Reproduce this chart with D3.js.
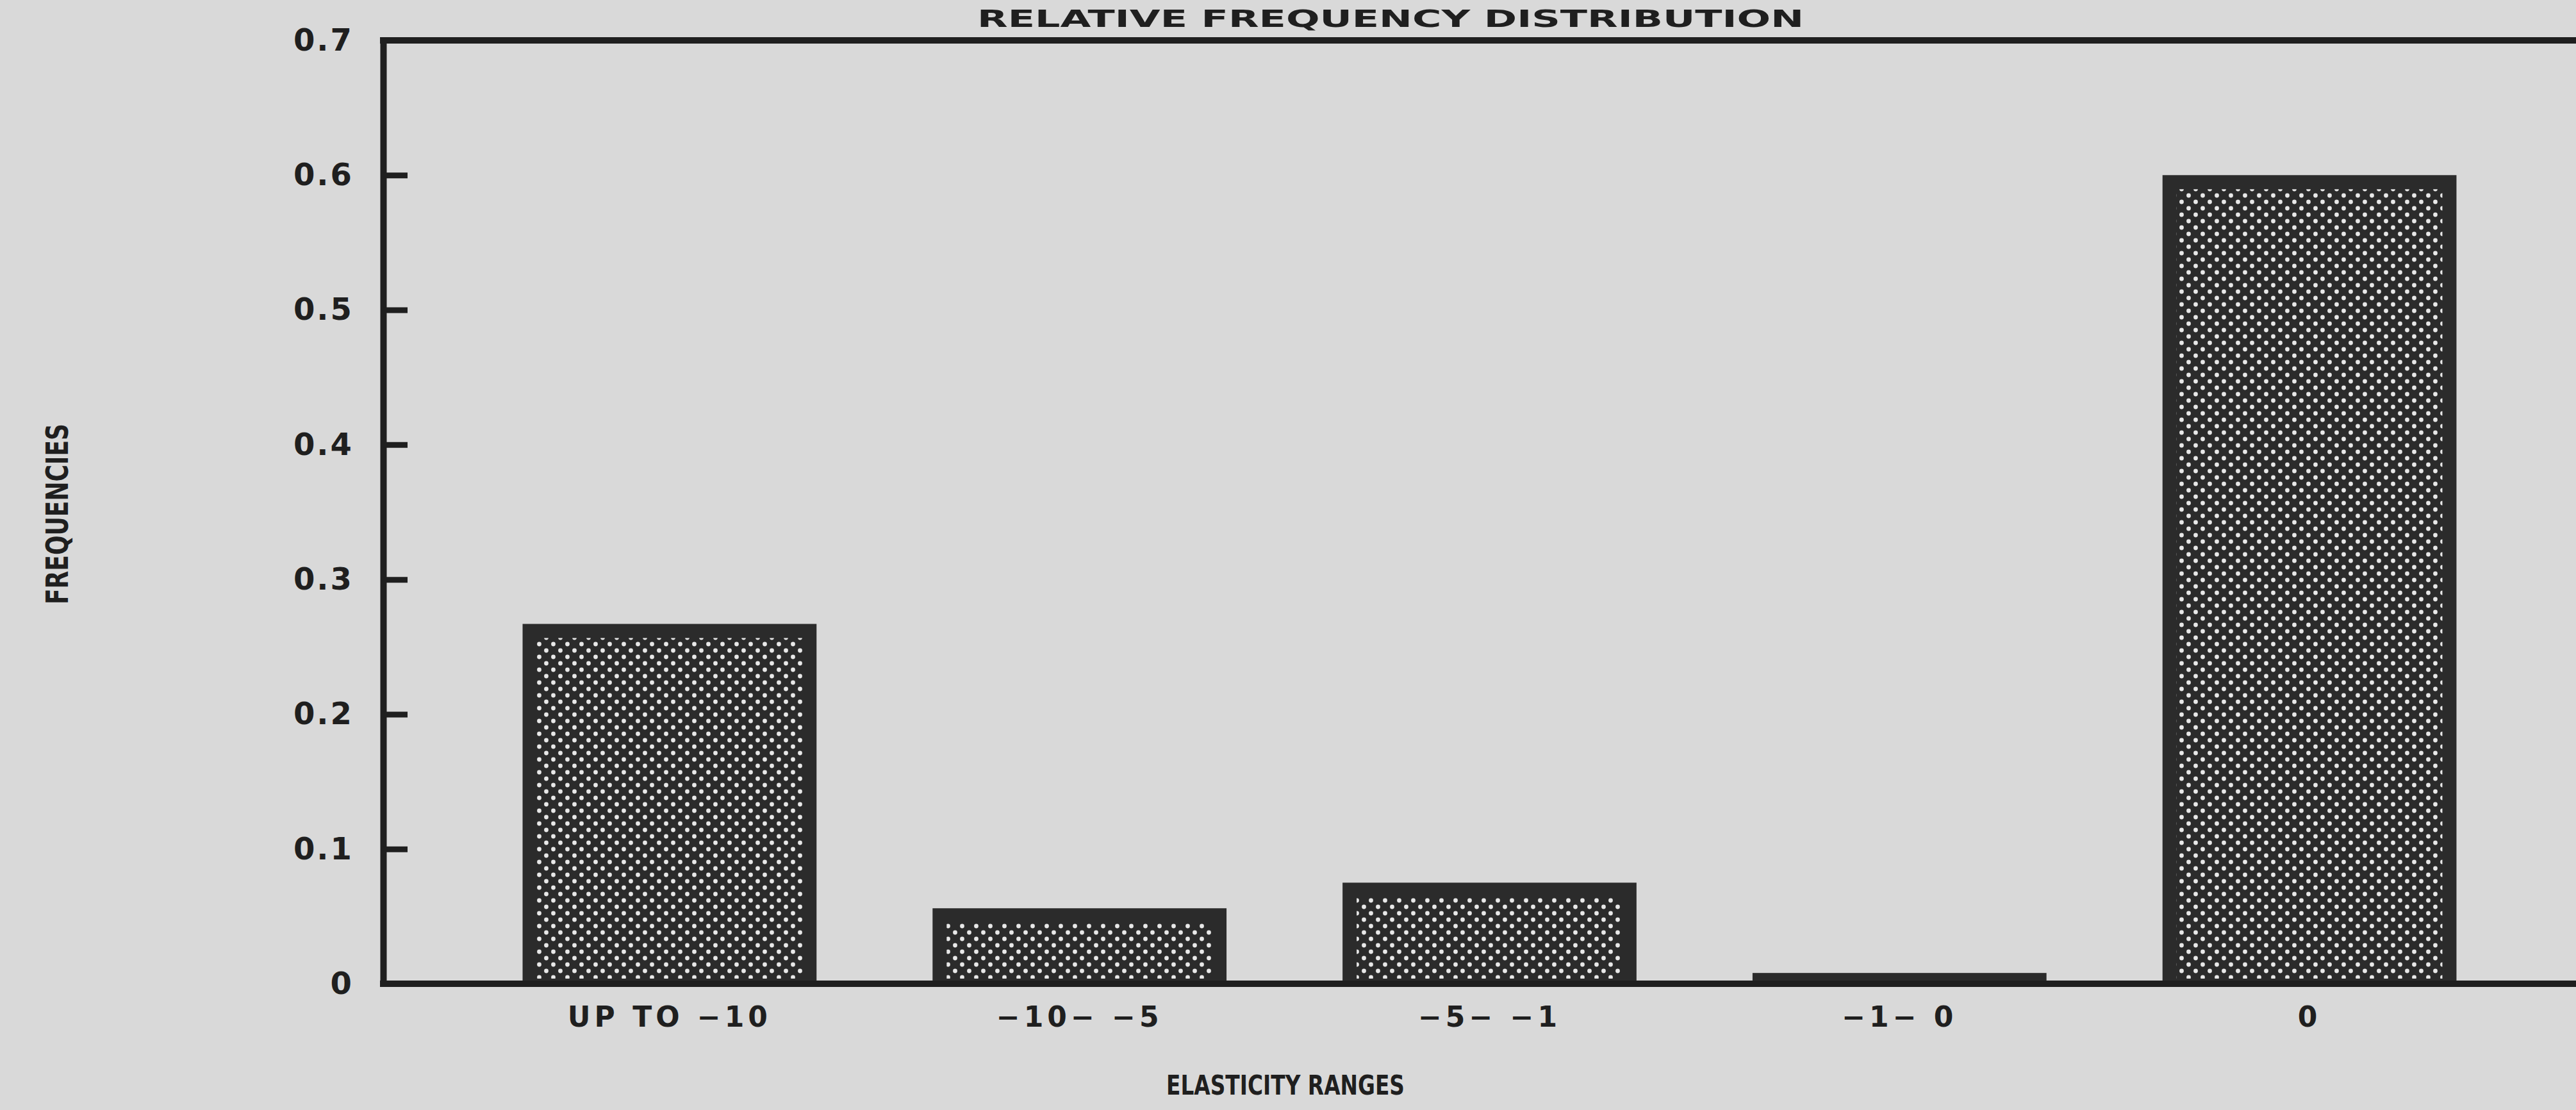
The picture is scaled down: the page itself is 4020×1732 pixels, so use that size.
<!DOCTYPE html>
<html>
<head>
<meta charset="utf-8">
<script src="https://cdn.jsdelivr.net/npm/d3@7"></script>
<style>
  html, body { margin: 0; padding: 0; background: #d9d9d9; }
  svg { display: block; }
  text { font-family: "DejaVu Sans", "Liberation Sans", sans-serif; font-weight: bold; fill: #1f1f1f; }
</style>
</head>
<body>
<svg id="chart"></svg>
<script>
// ---- data ----
const chartTitle = "RELATIVE FREQUENCY DISTRIBUTION";
const xTitle = "ELASTICITY RANGES";
const yTitle = "FREQUENCIES";
const categories = ["UP TO \u221210", "\u221210\u2212 \u22125", "\u22125\u2212 \u22121", "\u22121\u2212 0", "0"];
const values = [0.267, 0.056, 0.075, 0.008, 0.600];
const yTicks = [0, 0.1, 0.2, 0.3, 0.4, 0.5, 0.6, 0.7];
const yTickLabels = ["0", "0.1", "0.2", "0.3", "0.4", "0.5", "0.6", "0.7"];

// ---- layout ----
const W = 4020, H = 1732;
const plotLeft = 598, plotRight = 4020, plotTop = 63, plotBottom = 1535;
const ink = "#1f1f1f", barInk = "#2b2b2b", dotInk = "#e8e8e8";

const svg = d3.select("#chart").attr("width", W).attr("height", H);
svg.append("rect").attr("width", W).attr("height", H).attr("fill", "#d9d9d9");

const defs = svg.append("defs");
const pat = defs.append("pattern").attr("id", "dots")
  .attr("patternUnits", "userSpaceOnUse").attr("width", 22).attr("height", 20);
pat.append("rect").attr("width", 22).attr("height", 20).attr("fill", barInk);
pat.append("circle").attr("cx", 5.5).attr("cy", 5).attr("r", 3.4).attr("fill", dotInk);
pat.append("circle").attr("cx", 16.5).attr("cy", 15).attr("r", 3.4).attr("fill", dotInk);

const x = d3.scaleBand().domain(categories).range([725, 3924])
  .paddingInner(0.283).paddingOuter(0.1415);
const y = d3.scaleLinear().domain([0, 0.7]).range([plotBottom, plotTop]);

// bars
const inset = 22;
const bars = svg.append("g").selectAll("g").data(categories).join("g");
bars.append("rect")
  .attr("x", d => x(d)).attr("width", x.bandwidth())
  .attr("y", (d, i) => y(values[i])).attr("height", (d, i) => y(0) - y(values[i]))
  .attr("fill", barInk);
bars.append("rect")
  .attr("x", d => x(d) + inset).attr("width", x.bandwidth() - 2 * inset)
  .attr("y", (d, i) => y(values[i]) + inset)
  .attr("height", (d, i) => Math.max(0, y(0) - y(values[i]) - inset - 8))
  .attr("fill", "url(#dots)");

// top frame line and baseline
svg.append("line").attr("x1", plotLeft - 5).attr("x2", plotRight)
  .attr("y1", y(0.7)).attr("y2", y(0.7)).attr("stroke", ink).attr("stroke-width", 10);
svg.append("line").attr("x1", plotLeft - 5).attr("x2", plotRight)
  .attr("y1", y(0)).attr("y2", y(0)).attr("stroke", ink).attr("stroke-width", 10);

// y axis
const yAxis = d3.axisLeft(y).tickValues(yTicks)
  .tickFormat((d, i) => yTickLabels[i])
  .tickSizeInner(-38).tickSizeOuter(0).tickPadding(46);
const gy = svg.append("g").attr("transform", `translate(${plotLeft},0)`).call(yAxis);
gy.select(".domain").attr("stroke", ink).attr("stroke-width", 10);
gy.selectAll(".tick line").attr("stroke", ink).attr("stroke-width", 9);
gy.selectAll(".tick text").attr("font-size", 48).attr("fill", ink)
  .attr("letter-spacing", 3)
  .attr("font-family", "DejaVu Sans").attr("font-weight", "bold");

// x axis labels
const xAxis = d3.axisBottom(x).tickSize(0).tickPadding(36);
const gx = svg.append("g").attr("transform", `translate(0,${plotBottom})`).call(xAxis);
gx.select(".domain").remove();
gx.selectAll(".tick text").attr("font-size", 44).attr("fill", ink)
  .attr("letter-spacing", 6)
  .attr("font-family", "DejaVu Sans").attr("font-weight", "bold");

// titles
svg.append("text").attr("x", 2170).attr("y", 42).attr("text-anchor", "middle")
  .attr("font-size", 38).attr("textLength", 1290).attr("lengthAdjust", "spacingAndGlyphs")
  .text(chartTitle);
svg.append("text").attr("x", 2006).attr("y", 1708).attr("text-anchor", "middle")
  .attr("font-size", 42).attr("textLength", 372).attr("lengthAdjust", "spacingAndGlyphs")
  .text(xTitle);
svg.append("text").attr("transform", "translate(106,802) rotate(-90)").attr("text-anchor", "middle")
  .attr("font-size", 48).attr("textLength", 282).attr("lengthAdjust", "spacingAndGlyphs")
  .text(yTitle);
</script>
</body>
</html>
